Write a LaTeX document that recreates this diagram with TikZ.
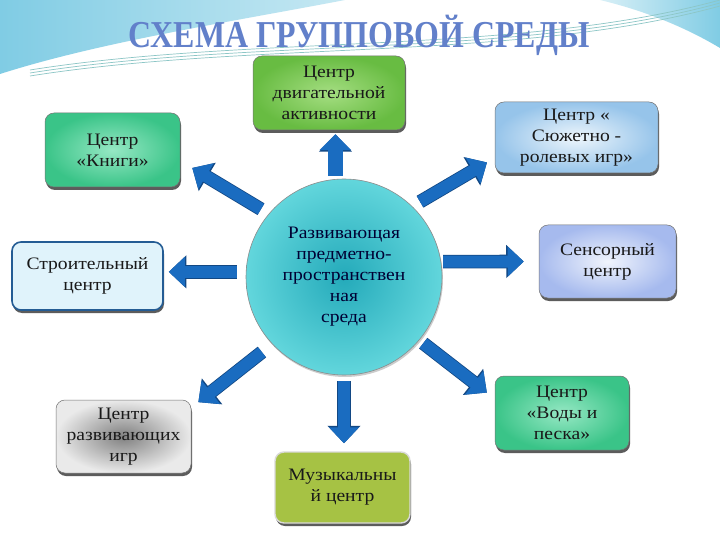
\documentclass[tikz,border=0pt]{standalone}
\usepackage{fontspec}
\setmainfont{Liberation Serif}[FakeStretch=1.12]
\usetikzlibrary{arrows.meta,shadows}

\definecolor{arrblue}{RGB}{26,108,192}
\definecolor{arredge}{RGB}{18,72,132}
\definecolor{dvigout}{RGB}{104,188,66}
\definecolor{dvigin}{RGB}{165,222,130}
\definecolor{knigout}{RGB}{58,196,136}
\definecolor{knigin}{RGB}{150,232,196}
\definecolor{syuzout}{RGB}{150,196,234}
\definecolor{syuzin}{RGB}{238,246,252}
\definecolor{stroifill}{RGB}{224,243,251}
\definecolor{stroidraw}{RGB}{36,92,148}
\definecolor{sensout}{RGB}{166,186,238}
\definecolor{sensin}{RGB}{240,244,252}
\definecolor{razvout}{RGB}{234,234,234}
\definecolor{razvin}{RGB}{128,128,128}
\definecolor{muzfill}{RGB}{166,194,68}
\definecolor{hubout}{RGB}{98,214,220}
\definecolor{hubin}{RGB}{36,170,186}
\definecolor{titleblue}{RGB}{98,128,202}
\definecolor{skyblue}{RGB}{128,204,228}

\tikzset{
  centrbox/.style={rectangle, rounded corners=9pt, draw=black!55, line width=0.5pt,
    align=center, inner sep=2pt, text=black!90,
    font=\fontsize{17.5}{21}\selectfont,
    drop shadow={shadow xshift=1pt, shadow yshift=-3pt, opacity=0.75, fill=black!85}},
  boxsize/.style 2 args={minimum width=#1, minimum height=#2},
  hub/.style={circle, minimum size=196pt, inner sep=0pt, draw=black!45, line width=0.6pt,
    inner color=hubin, outer color=hubout, align=center, text=black!80!blue,
    font=\fontsize{17.5}{21}\selectfont,
    drop shadow={shadow xshift=1pt, shadow yshift=-2pt, opacity=0.4}},
  blockarr/.style={line width=12pt, draw=arrblue, -{Triangle[width=29pt,length=16pt]},
    preaction={draw=arredge, line width=13.6pt, -{Triangle[width=32pt,length=17.5pt]}}},
}

\begin{document}
\begin{tikzpicture}[x=1pt,y=-1pt]
  \useasboundingbox (0,0) rectangle (720,540);
  % background
  \fill[white] (0,0) rectangle (720,540);
  \shade[left color=skyblue, right color=skyblue!45] (0,0) -- (345,0) .. controls (230,22) and (100,42) .. (0,74) -- cycle;
  \shade[left color=skyblue!30, right color=skyblue] (600,0) -- (720,0) -- (720,48) .. controls (690,30) and (650,12) .. (600,0) -- cycle;
  \foreach \d in {0,3,6}
    \draw[teal!45, line width=0.7pt] (30,70+\d) .. controls (250,35+\d) and (520,55+\d) .. (720,\d);

  % title
  \node[text=titleblue] (title) at (359,35) {\scalebox{0.75}[1]{\fontsize{38}{38}\selectfont\bfseries СХЕМА ГРУППОВОЙ СРЕДЫ}};

  % centre
  \node[hub] (hub) at (344,277) {Развивающая\\предметно-\\пространствен\\ная\\среда};

  % centres around
  \node[centrbox, boxsize={152pt}{74pt}, inner color=dvigin, outer color=dvigout] (dvig) at (329,93) {Центр\\двигательной\\активности};
  \node[centrbox, boxsize={135pt}{74pt}, inner color=knigin, outer color=knigout] (kniga) at (112.5,150) {Центр\\«Книги»};
  \node[centrbox, boxsize={163pt}{71pt}, inner color=syuzin, outer color=syuzout] (syuzh) at (576.5,137.5) {Центр «\\Сюжетно -\\ролевых игр»};
  \node[centrbox, boxsize={151pt}{68pt}, fill=stroifill, draw=stroidraw, line width=1.6pt, drop shadow={opacity=0}] (stroit) at (87.5,276) {Строительный\\центр};
  \node[centrbox, boxsize={137pt}{73pt}, inner color=sensin, outer color=sensout] (sensor) at (607.5,261.5) {Сенсорный\\центр};
  \node[centrbox, boxsize={135pt}{73pt}, inner color=razvin, outer color=razvout] (razv) at (123.5,436.5) {Центр\\развивающих\\игр};
  \node[centrbox, boxsize={135pt}{71pt}, fill=muzfill, draw=white!85!black, line width=1.4pt] (muz) at (342.5,487.5) {Музыкальны\\й центр};
  \node[centrbox, boxsize={134pt}{74pt}, inner color=knigin, outer color=knigout] (vody) at (562,413) {Центр\\«Воды и\\песка»};

  % arrows
  \draw[blockarr, line width=15pt, -{Triangle[width=31pt,length=16pt]}, shorten <=3pt, shorten >=4pt] (hub.95) -- (hub.95 |- dvig.south);
  \draw[blockarr, shorten <=9pt, shorten >=14pt] (hub.140) -- (kniga.-9);
  \draw[blockarr, shorten <=9pt, shorten >=9pt] (hub.46) -- (syuzh.194);
  \draw[blockarr, shorten <=9pt, shorten >=5pt] (hub.177) -- (hub.177 -| stroit.east);
  \draw[blockarr, shorten <=2pt, shorten >=15pt] (hub.9) -- (sensor.west);
  \draw[blockarr, shorten <=13pt, shorten >=9pt] (hub.223) -- (razv.23);
  \draw[blockarr, shorten <=6pt, shorten >=8pt] (hub.south) -- (hub.south |- muz.north);
  \draw[blockarr, shorten <=5pt, shorten >=10pt] (hub.-40) -- (vody.168);
\end{tikzpicture}
\end{document}
